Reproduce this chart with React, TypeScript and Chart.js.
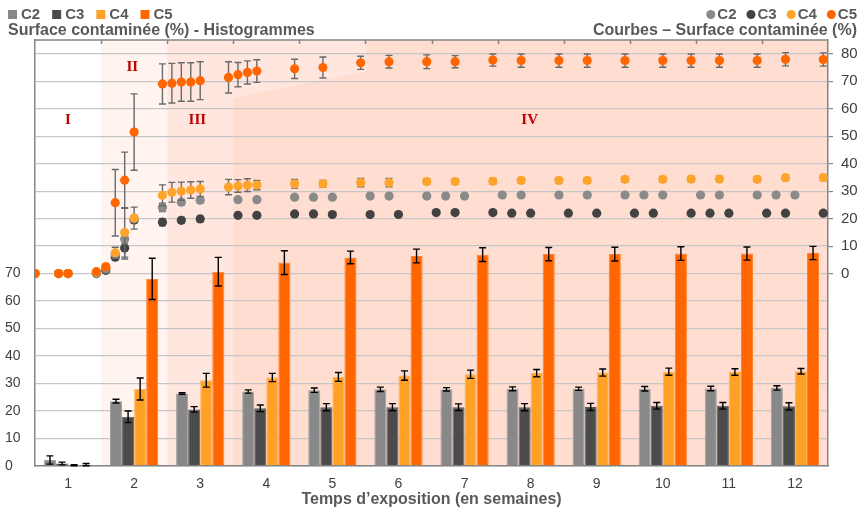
import React, { useEffect, useRef } from 'react';
import { Chart, registerables } from 'chart.js';

Chart.register(...registerables);

// ---------- data ----------
const weekLabels = ['1', '2', '3', '4', '5', '6', '7', '8', '9', '10', '11', '12'];
const seriesNames = ['C2', 'C3', 'C4', 'C5'];

// Histogram values (left axis, %)
const barC2 = [2.2, 23.6, 26.4, 27.1, 27.6, 27.9, 27.9, 28.1, 28.1, 28.1, 28.2, 28.4];
const barC2Err = [1.5, 0.7, 0.3, 0.6, 0.8, 0.8, 0.6, 0.7, 0.6, 0.8, 0.8, 0.8];
const barC3 = [0.9, 17.9, 20.6, 21.0, 21.4, 21.4, 21.4, 21.4, 21.5, 21.9, 21.9, 21.7];
const barC3Err = [0.5, 2.1, 1.0, 1.2, 1.3, 1.3, 1.2, 1.3, 1.3, 1.2, 1.2, 1.3];
const barC4 = [0.3, 28.0, 31.2, 32.2, 32.4, 32.9, 33.4, 33.8, 34.0, 34.3, 34.2, 34.5];
const barC4Err = [0.2, 4.0, 2.5, 1.5, 1.6, 1.7, 1.5, 1.3, 1.3, 1.3, 1.2, 1.0];
const barC5 = [0.5, 68.1, 70.7, 74.0, 75.9, 76.4, 76.9, 77.1, 77.1, 77.3, 77.3, 77.5];
const barC5Err = [0.4, 7.5, 5.2, 4.3, 2.3, 2.5, 2.5, 2.4, 2.5, 2.5, 2.4, 2.4];

// Curves (right axis, %), time in days
const c5Days = [0, 2.5, 3.5, 6.5, 7.5, 8.5, 9.5, 10.5, 13.5, 14.5, 15.5, 16.5, 17.5, 20.5, 21.5, 22.5, 23.5, 27.5, 30.5, 34.5, 37.5, 41.5, 44.5, 48.5, 51.5, 55.5, 58.5, 62.5, 66.5, 69.5, 72.5, 76.5, 79.5, 83.5];
const c5Vals = [0, 0, 0, 0.7, 2.5, 25.8, 34, 51.5, 69, 69.3, 69.7, 69.7, 70.2, 71.4, 72.4, 73.2, 73.7, 74.5, 75, 76.7, 77.1, 77.1, 77.1, 77.7, 77.5, 77.5, 77.5, 77.5, 77.5, 77.5, 77.5, 77.5, 78, 77.9];
const c5Err = [0, 0, 0, 0, 0, 12.1, 10.2, 13.9, 7.3, 7.2, 7.0, 7.0, 6.9, 5.7, 4.4, 4.2, 4.1, 3.5, 3.8, 2.4, 2.3, 2.5, 2.2, 2.2, 2.4, 2.4, 2.4, 2.4, 2.4, 2.4, 2.4, 2.4, 2.4, 2.4];

const c4Days = c5Days;
const c4Vals = [0, 0, 0, 0.5, 2.5, 7.6, 15, 20.2, 28.5, 29.6, 30, 30.4, 30.8, 31.5, 31.9, 32.2, 32.2, 32.7, 32.7, 33.1, 33.1, 33.5, 33.5, 33.6, 33.9, 33.9, 33.9, 34.3, 34.3, 34.4, 34.4, 34.3, 34.9, 34.9];
const c4Err = [0, 0, 0, 0, 0.8, 2.0, 9.0, 4.0, 3.8, 3.6, 3.3, 3.0, 2.7, 2.8, 2.3, 2.3, 1.7, 1.6, 1.2, 1.5, 1.5, 1.0, 1.0, 1.0, 1.0, 1.0, 1.0, 1.0, 1.0, 1.0, 1.0, 1.0, 1.0, 1.0];

const c2Days = [0, 2.5, 3.5, 6.5, 7.5, 8.5, 9.5, 10.5, 13.5, 15.5, 17.5, 21.5, 23.5, 27.5, 29.5, 31.5, 35.5, 37.5, 41.5, 43.5, 45.5, 49.5, 51.5, 55.5, 58.5, 62.5, 64.5, 66.5, 70.5, 72.5, 76.5, 78.5, 80.5];
const c2Vals = [0, 0, 0, 0, 1.8, 7, 12.6, 20, 24.1, 26, 26.7, 26.9, 26.9, 27.8, 27.8, 27.8, 28.2, 28.2, 28.2, 28.2, 28.2, 28.6, 28.6, 28.6, 28.6, 28.6, 28.6, 28.6, 28.6, 28.6, 28.6, 28.6, 28.6];
const c2Err = [0, 0, 0, 0, 1.5, 1.0, 1.5, 1.0, 1.5, 1.0, 1.0, 0.6, 0.6, 0.6, 0.6, 0.6, 0.6, 0.6, 0.6, 0.6, 0.6, 0.6, 0.6, 0.6, 0.6, 0.6, 0.6, 0.6, 0.6, 0.6, 0.6, 0.6, 0.6];

const c3Days = [0, 2.5, 3.5, 6.5, 7.5, 8.5, 9.5, 10.5, 13.5, 15.5, 17.5, 21.5, 23.5, 27.5, 29.5, 31.5, 35.5, 38.5, 42.5, 44.5, 48.5, 50.5, 52.5, 56.5, 59.5, 63.5, 65.5, 69.5, 71.5, 73.5, 77.5, 79.5, 83.5];
const c3Vals = [0, 0, 0, 0, 1.2, 6, 9.3, 19.5, 18.7, 19.4, 19.9, 21.2, 21.2, 21.7, 21.7, 21.5, 21.5, 21.5, 22.2, 22.2, 22.2, 22, 22, 22, 22, 22, 22, 22, 22, 22, 22, 22, 22];
const c3Err = [0, 0, 0, 0, 0.8, 1.0, 4.0, 1.0, 1.3, 1.0, 1.0, 0.6, 0.6, 0.6, 0.6, 0.6, 0.6, 0.6, 0.6, 0.6, 0.6, 0.6, 0.6, 0.6, 0.6, 0.6, 0.6, 0.6, 0.6, 0.6, 0.6, 0.6, 0.6];

// Phase zones (days) and labels
const zoneStarts = [7, 14, 21];
const zoneIVEdge = [
  { day: 21, y: 64 },
  { day: 35, y: 73.5 },
];
const zoneLabels = [
  { text: 'I', day: 3.5, y: 56 },
  { text: 'II', day: 10.3, y: 75.3 },
  { text: 'III', day: 17.2, y: 56 },
  { text: 'IV', day: 52.4, y: 56 },
];
const DAYS_PER_WEEK = 7;
const TOTAL_DAYS = 84;

// ---------- styles ----------
const barColors = ['#888888', '#4b4b4b', '#ffa126', '#ff6600'];
const barBorders = ['#a2a2a2', '#5e5e5e', '#ffb35a', '#ff7f2a'];
const dotColors = ['#8a8a8a', '#424242', '#ffa42b', '#ff6600'];
const textGrey = '#595959';
const tickGrey = '#404040';
const axisGrey = '#858585';
const zoneColors = ['#fff4f0', '#ffe7df', '#ffddd1'];
const FONT = "'Liberation Sans', Arial, sans-serif";
const PAD = { left: 35, right: 30, top: 40, bottom: 42 };

function drawErrors(chart: any, index: number, color: string) {
  const ds: any = chart.data.datasets[index];
  const errs: number[] | undefined = ds.errors;
  if (!errs) return;
  const meta = chart.getDatasetMeta(index);
  const yScale = chart.scales[meta.yAxisID];
  const ctx = chart.ctx;
  ctx.save();
  ctx.strokeStyle = color;
  ctx.lineWidth = 1.4;
  meta.data.forEach((el: any, i: number) => {
    const e = errs[i];
    if (!e) return;
    const raw = ds.data[i];
    const v = typeof raw === 'number' ? raw : raw.y;
    const x = el.x;
    const y1 = yScale.getPixelForValue(v + e);
    const y2 = yScale.getPixelForValue(v - e);
    ctx.beginPath();
    ctx.moveTo(x, y1);
    ctx.lineTo(x, y2);
    ctx.moveTo(x - 3.5, y1);
    ctx.lineTo(x + 3.5, y1);
    ctx.moveTo(x - 3.5, y2);
    ctx.lineTo(x + 3.5, y2);
    ctx.stroke();
  });
  ctx.restore();
}

const barErrorPlugin = {
  id: 'barErrors',
  afterDatasetDraw(chart: any, args: any) {
    drawErrors(chart, args.index, '#000000');
  },
};

const pointErrorPlugin = {
  id: 'pointErrors',
  beforeDatasetDraw(chart: any, args: any) {
    drawErrors(chart, args.index, '#6a6a6a');
  },
};

// day -> pixel via the category scale (week k centred at index k-1)
function dayPx(xScale: any, d: number) {
  return xScale.getPixelForValue(d / DAYS_PER_WEEK - 0.5);
}

const backgroundPlugin = {
  id: 'zones',
  beforeDraw(chart: any) {
    const { ctx, chartArea: a, scales } = chart;
    const xc = scales.x;
    const yr = scales.y2;
    const px = (d: number) => dayPx(xc, d);
    const h = a.bottom - a.top;
    ctx.save();
    ctx.fillStyle = '#ffffff';
    ctx.fillRect(0, 0, chart.width, chart.height);
    ctx.fillStyle = zoneColors[0];
    ctx.fillRect(px(zoneStarts[0]), a.top, px(zoneStarts[1]) - px(zoneStarts[0]), h);
    ctx.fillStyle = zoneColors[1];
    ctx.fillRect(px(zoneStarts[1]), a.top, px(zoneIVEdge[1].day) - px(zoneStarts[1]), h);
    ctx.fillStyle = zoneColors[2];
    ctx.beginPath();
    ctx.moveTo(px(zoneIVEdge[0].day), a.bottom);
    ctx.lineTo(px(zoneIVEdge[0].day), yr.getPixelForValue(zoneIVEdge[0].y));
    ctx.lineTo(px(zoneIVEdge[1].day), yr.getPixelForValue(zoneIVEdge[1].y));
    ctx.lineTo(px(zoneIVEdge[1].day), a.top);
    ctx.lineTo(a.right, a.top);
    ctx.lineTo(a.right, a.bottom);
    ctx.closePath();
    ctx.fill();
    ctx.restore();
  },
};

const textPlugin = {
  id: 'texts',
  afterDraw(chart: any) {
    const { ctx, chartArea: a, scales } = chart;
    const xc = scales.x;
    const yr = scales.y2;
    ctx.save();

    // top border + inward ticks at week boundaries
    ctx.strokeStyle = axisGrey;
    ctx.lineWidth = 1.5;
    ctx.beginPath();
    ctx.moveTo(a.left, a.top);
    ctx.lineTo(a.right, a.top);
    for (let w = 1; w < weekLabels.length; w++) {
      const x = Math.round(dayPx(xc, w * DAYS_PER_WEEK)) + 0.5;
      ctx.moveTo(x, a.top);
      ctx.lineTo(x, a.top + 4);
    }
    ctx.stroke();

    // zone labels
    ctx.font = `bold 15px 'Liberation Serif', 'Times New Roman', serif`;
    ctx.fillStyle = '#c00000';
    ctx.textAlign = 'center';
    ctx.textBaseline = 'middle';
    zoneLabels.forEach((z) => {
      ctx.fillText(z.text, dayPx(xc, z.day), yr.getPixelForValue(z.y));
    });

    // left legend (squares)
    ctx.font = `bold 15px ${FONT}`;
    ctx.textAlign = 'left';
    ctx.textBaseline = 'middle';
    let x = 8;
    seriesNames.forEach((n, i) => {
      ctx.fillStyle = barColors[i];
      ctx.fillRect(x, 10, 9, 9);
      ctx.fillStyle = textGrey;
      ctx.fillText(n, x + 13, 15);
      x += 13 + ctx.measureText(n).width + 12;
    });

    // right legend (dots)
    let rx = 857;
    for (let i = seriesNames.length - 1; i >= 0; i--) {
      const n = seriesNames[i];
      const w = ctx.measureText(n).width;
      const tx = rx - w;
      ctx.fillStyle = textGrey;
      ctx.fillText(n, tx, 15);
      const cx = tx - 6.5;
      ctx.fillStyle = dotColors[i];
      ctx.beginPath();
      ctx.arc(cx, 14.5, 4.5, 0, Math.PI * 2);
      ctx.fill();
      rx = cx - 4.5 - 10;
    }

    // titles
    ctx.font = `bold 16px ${FONT}`;
    ctx.fillStyle = textGrey;
    ctx.textBaseline = 'alphabetic';
    ctx.textAlign = 'left';
    ctx.fillText('Surface contaminée (%) - Histogrammes', 8, 35);
    ctx.textAlign = 'right';
    ctx.fillText('Courbes – Surface contaminée (%)', 857, 35);
    ctx.textAlign = 'center';
    ctx.fillText('Temps d’exposition (en semaines)', (a.left + a.right) / 2, 504);

    ctx.restore();
  },
};

export default function App() {
  const barRef = useRef<HTMLCanvasElement | null>(null);
  const ptRef = useRef<HTMLCanvasElement | null>(null);

  useEffect(() => {
    if (!barRef.current || !ptRef.current) return;
    document.body.style.margin = '0';
    const barVals = [barC2, barC3, barC4, barC5];
    const barErrs = [barC2Err, barC3Err, barC4Err, barC5Err];

    const barChart = new Chart(barRef.current, {
      type: 'bar',
      data: {
        labels: weekLabels,
        datasets: barVals.map((vals, i) => ({
          label: seriesNames[i],
          data: vals,
          errors: barErrs[i],
          yAxisID: 'y',
          backgroundColor: barColors[i],
          borderColor: barBorders[i],
          borderWidth: 1,
          categoryPercentage: 0.73,
          barPercentage: 1,
        })) as any,
      },
      options: {
        animation: false,
        responsive: false,
        devicePixelRatio: 1,
        layout: { padding: { top: PAD.top, left: 5, right: 0, bottom: 0 } },
        plugins: { legend: { display: false }, tooltip: { enabled: false } },
        scales: {
          x: {
            type: 'category',
            position: 'bottom',
            offset: true,
            grid: { display: false, drawTicks: false, offset: true },
            border: { display: true, color: axisGrey, width: 1.5 },
            ticks: { color: tickGrey, font: { family: FONT, size: 14 }, padding: 10 },
            afterFit: (s: any) => { s.height = PAD.bottom; },
          },
          y: {
            type: 'linear',
            position: 'left',
            min: 0,
            max: 155,
            afterBuildTicks: (s: any) => {
              const t = [];
              for (let v = 0; v <= 150; v += 10) t.push({ value: v });
              s.ticks = t;
            },
            grid: { display: true, drawOnChartArea: true, drawTicks: false, color: '#c6c6c6', lineWidth: 1.3 },
            border: { display: true, color: axisGrey, width: 1.5 },
            ticks: {
              color: tickGrey,
              font: { family: FONT, size: 14 },
              crossAlign: 'far',
              padding: 14,
              callback: (v: any) => (v <= 70 ? String(v) : ''),
            },
            afterFit: (s: any) => { s.width = PAD.left - 5; },
          },
          y2: {
            type: 'linear',
            position: 'right',
            min: -70,
            max: 85,
            afterBuildTicks: (s: any) => {
              const t = [];
              for (let v = 0; v <= 80; v += 10) t.push({ value: v });
              s.ticks = t;
            },
            grid: { display: true, drawOnChartArea: false, drawTicks: true, tickLength: 5, color: axisGrey, lineWidth: 1.2 },
            border: { display: true, color: axisGrey, width: 1.5 },
            ticks: { color: tickGrey, font: { family: FONT, size: 15 }, padding: 8 },
            afterFit: (s: any) => { s.width = PAD.right; },
          },
        },
      } as any,
      plugins: [backgroundPlugin, barErrorPlugin, textPlugin],
    });

    const curves = [
      { days: c5Days, vals: c5Vals, err: c5Err, color: dotColors[3] },
      { days: c4Days, vals: c4Vals, err: c4Err, color: dotColors[2] },
      { days: c2Days, vals: c2Vals, err: c2Err, color: dotColors[0] },
      { days: c3Days, vals: c3Vals, err: c3Err, color: dotColors[1] },
    ];

    const ptChart = new Chart(ptRef.current, {
      type: 'scatter',
      data: {
        datasets: curves.map((c) => ({
          data: c.days.map((d, i) => ({ x: d, y: c.vals[i] })),
          errors: c.err,
          xAxisID: 'xs',
          yAxisID: 'y2',
          pointRadius: 4.6,
          pointBorderWidth: 0,
          pointBackgroundColor: c.color,
          backgroundColor: c.color,
          showLine: false,
        })) as any,
      },
      options: {
        animation: false,
        responsive: false,
        devicePixelRatio: 1,
        layout: { padding: PAD },
        plugins: { legend: { display: false }, tooltip: { enabled: false } },
        events: [],
        scales: {
          xs: { type: 'linear', axis: 'x', min: 0, max: TOTAL_DAYS, display: false, offset: false },
          y2: { type: 'linear', axis: 'y', min: -70, max: 85, display: false },
        },
      } as any,
      plugins: [pointErrorPlugin],
    });

    return () => {
      barChart.destroy();
      ptChart.destroy();
    };
  }, []);

  return (
    <div style={{ position: 'absolute', left: 0, top: 0, width: 858, height: 508 }}>
      <canvas ref={barRef} width={858} height={508} style={{ position: 'absolute', left: 0, top: 0 }} />
      <canvas ref={ptRef} width={858} height={508} style={{ position: 'absolute', left: 0, top: 0 }} />
    </div>
  );
}
